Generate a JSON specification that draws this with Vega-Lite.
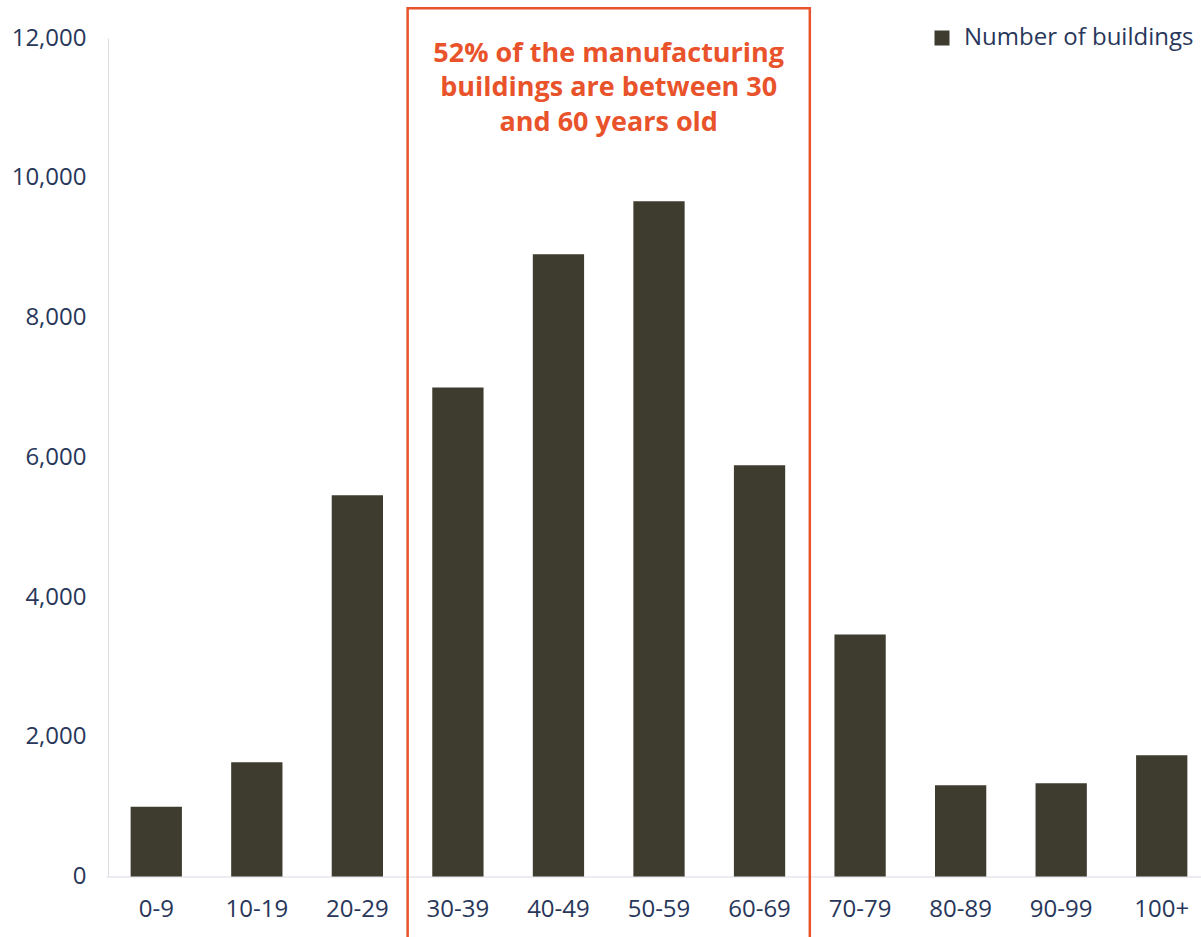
{
  "$schema": "https://vega.github.io/schema/vega-lite/v6.json",
  "autosize": {"type": "none"},
  "padding": {"left": 108, "top": 38, "right": 0, "bottom": 60},
  "width": 1093,
  "height": 838.5,
  "background": "white",
  "config": {"view": {"stroke": null}, "font": "Open Sans"},
  "data": {"values": [
    {"age": "0-9", "count": 1000},
    {"age": "10-19", "count": 1635},
    {"age": "20-29", "count": 5455},
    {"age": "30-39", "count": 7000},
    {"age": "40-49", "count": 8905},
    {"age": "50-59", "count": 9665},
    {"age": "60-69", "count": 5885},
    {"age": "70-79", "count": 3465},
    {"age": "80-89", "count": 1305},
    {"age": "90-99", "count": 1335},
    {"age": "100+", "count": 1735}
  ]},
  "layer": [
    {
      "mark": {"type": "bar", "width": {"band": 0.51}},
      "encoding": {
        "x": {
          "field": "age", "type": "nominal", "sort": null,
          "scale": {
            "domain": ["0-9","10-19","20-29","30-39","40-49","50-59","60-69","70-79","80-89","90-99","100+"],
            "paddingInner": 0, "paddingOuter": 0, "range": [-2, 1104]
          },
          "axis": {
            "title": null, "labelAngle": 0, "ticks": false, "domainColor": "#e6e6ee", "domainWidth": 1.5,
            "labelFontSize": 24, "labelColor": "#28375a", "labelPadding": 21
          }
        },
        "y": {
          "field": "count", "type": "quantitative",
          "scale": {"domain": [0, 12000], "nice": false},
          "axis": {
            "title": null, "values": [0, 2000, 4000, 6000, 8000, 10000, 12000], "format": ",.0f",
            "ticks": false, "grid": false, "domainColor": "#dcdce2",
            "labelFontSize": 24, "labelColor": "#28375a", "labelPadding": 22
          }
        },
        "color": {
          "datum": "Number of buildings", "type": "nominal",
          "scale": {"range": ["#3e3b2f"]},
          "legend": {
            "title": null, "orient": "none", "legendX": 822, "legendY": -12,
            "symbolType": "square", "symbolSize": 225, "symbolStrokeWidth": 0,
            "labelFontSize": 24, "labelColor": "#28375a", "labelOffset": 10, "labelLimit": 400
          }
        }
      }
    },
    {
      "data": {"values": [{"a": "30-39", "b": "60-69", "top": 12425, "bottom": -1500}]},
      "mark": {"type": "rect", "filled": false, "color": "#e9532b", "strokeWidth": 2.5, "clip": false},
      "encoding": {
        "x": {"field": "a", "type": "nominal", "bandPosition": 0},
        "x2": {"field": "b", "bandPosition": 1},
        "y": {"field": "top", "type": "quantitative"},
        "y2": {"field": "bottom"}
      }
    },
    {
      "data": {"values": [{"pos": "40-49", "yv": 11660, "label": "52% of the manufacturing\nbuildings are between 30\nand 60 years old"}]},
      "mark": {"type": "text", "fontWeight": "bold", "fontSize": 27, "color": "#e9532b", "align": "center", "baseline": "alphabetic", "lineHeight": 34.5, "lineBreak": "\n"},
      "encoding": {
        "x": {"field": "pos", "type": "nominal", "bandPosition": 1},
        "y": {"field": "yv", "type": "quantitative"},
        "text": {"field": "label"}
      }
    }
  ]
}
